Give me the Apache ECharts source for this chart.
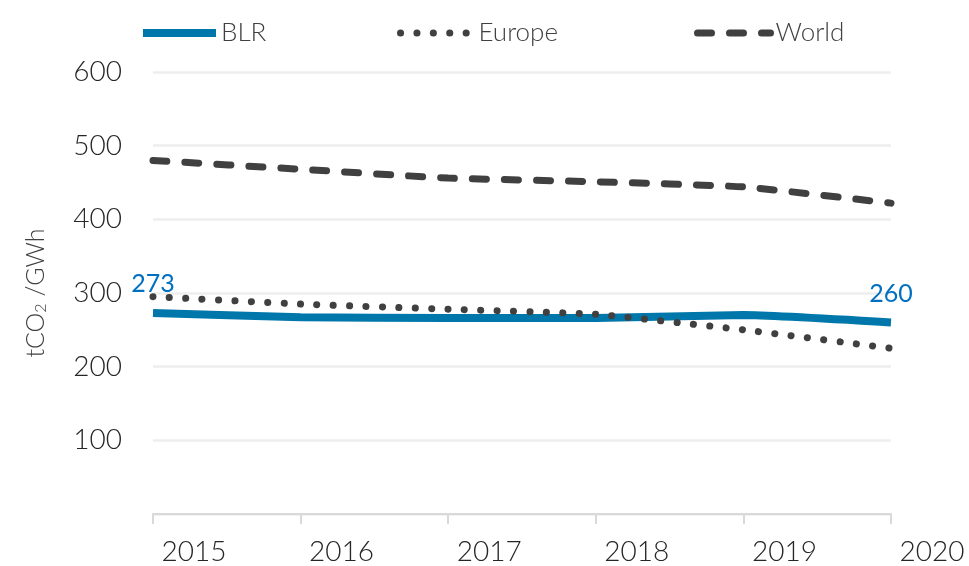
<!DOCTYPE html>
<html><head><meta charset="utf-8">
<script src="https://cdn.jsdelivr.net/npm/echarts@6/dist/echarts.min.js"></script>
<style>html,body{margin:0;padding:0;background:#fff}#c{width:969px;height:566px}</style>
</head><body><div id="c"></div>
<script>
const years = ['2015','2016','2017','2018','2019','2020'];
const blr = [273, 267, 266, 266, 270, 260];
const europe = [295, 285, 278, 271, 250, 225];
const world = [480, 468, 456, 451, 444, 422];
const yTicks = {min: 0, max: 600, interval: 100};
const seriesNames = ['BLR', 'Europe', 'World'];
const legendLefts = [139, 397, 694];

const FONT = 'Lato';
const chart = echarts.init(document.getElementById('c'));
const blrData = blr.map((v, i) => ({
  value: v,
  label: {show: i === 0 || i === blr.length - 1}
}));
const legends = seriesNames.map((n, i) => ({
  left: legendLefts[i], top: 20, padding: 0,
  itemWidth: 73, itemHeight: 14,
  itemStyle: {opacity: 0},
  lineStyle: {width: 'inherit'},
  textStyle: {fontSize: 26, color: '#404040', fontFamily: FONT, fontWeight: 300},
  data: [n]
}));
chart.setOption({
  animation: false,
  textStyle: {fontFamily: FONT},
  legend: legends,
  grid: {left: 153, right: 78, top: 72, bottom: 51, containLabel: false},
  xAxis: {
    type: 'category', data: years, boundaryGap: false,
    axisLine: {lineStyle: {color: '#d9d9d9', width: 2}},
    axisTick: {show: true, length: 10, lineStyle: {color: '#d9d9d9', width: 2}},
    axisLabel: {fontSize: 28, color: '#262626', margin: 24, padding: [0,0,0,82], fontFamily: FONT, fontWeight: 300},
    splitLine: {show: false}
  },
  yAxis: {
    type: 'value', min: yTicks.min, max: yTicks.max, interval: yTicks.interval,
    name: '{a|tCO}{s|2}{a| /GWh}', nameLocation: 'middle', nameGap: 104,
    nameTextStyle: {rich: {
      a: {fontSize: 25, color: '#404040', fontFamily: FONT, fontWeight: 300},
      s: {fontSize: 16, color: '#404040', fontFamily: FONT, fontWeight: 300, padding: [10,0,0,0]}
    }},
    axisLine: {show: false}, axisTick: {show: false},
    axisLabel: {fontSize: 28, color: '#262626', margin: 31, showMinLabel: false, fontFamily: FONT, fontWeight: 300},
    splitLine: {lineStyle: {color: '#eeeeee', width: 2.5}}
  },
  series: [
    {
      name: 'World', type: 'line', data: world, symbol: 'circle', symbolSize: 0, smooth: 0.15, z: 3,
      lineStyle: {color: '#404040', width: 7, type: [14, 18], cap: 'round'},
      itemStyle: {color: '#404040'}
    },
    {
      name: 'Europe', type: 'line', data: europe, symbol: 'circle', symbolSize: 0, smooth: 0.15, z: 4,
      lineStyle: {color: '#404040', width: 7, type: [0.1, 16.3], cap: 'round'},
      itemStyle: {color: '#404040'}
    },
    {
      name: 'BLR', type: 'line', data: blrData, symbol: 'circle', symbolSize: 0, smooth: 0.15, z: 2,
      lineStyle: {color: '#0077AA', width: 8},
      itemStyle: {color: '#0077AA'},
      label: {position: 'top', distance: 16, fontSize: 25, color: '#0070C0', fontFamily: FONT, fontWeight: 'normal'}
    }
  ]
});
</script></body></html>
